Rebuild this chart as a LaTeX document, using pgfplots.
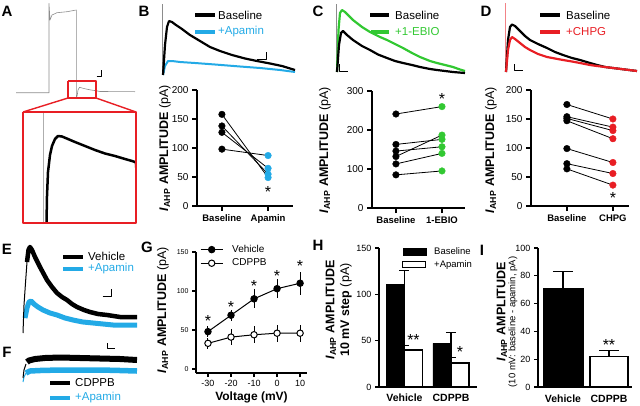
\documentclass[border=0pt]{standalone}
\usepackage{pgfplots}
\pgfplotsset{compat=1.18}
\usepackage{fontspec}
\setmainfont{Liberation Sans}
\definecolor{cblue}{RGB}{35,170,230}
\definecolor{cgreen}{RGB}{50,200,50}
\definecolor{cred}{RGB}{232,30,36}
\definecolor{tgray}{RGB}{140,140,140}
\newcommand{\fs}[1]{\fontsize{#1}{#1}\selectfont}
\newcommand{\IAHP}{\textbf{\textit{I}}\textsubscript{\textbf{AHP}}}
\pgfplotsset{
  gp/.style={scale only axis, axis x line*=bottom, axis y line*=left,
    axis line style={line width=1.8pt}, tick style={line width=1.5pt, black},
    tick align=outside, major tick length=5pt, clip=false,
    /pgf/number format/assume math mode=true},
  tr/.style={no marks, line join=round},
  pair/.style={black, line width=0.8pt, no marks},
  dot/.style={only marks, mark=*, mark size=3.3pt},
}
\begin{document}
\begin{tikzpicture}
\path[use as bounding box] (0pt,0pt) rectangle (640pt,-406pt);
%================ overlay in pixel coordinates (traces, legends of traces, labels)
\begin{axis}[at={(0pt,0pt)}, anchor=north west, scale only axis, width=640pt, height=406pt,
  xmin=0, xmax=640, ymin=0, ymax=406, y dir=reverse, hide axis, clip=false]
% panel letters
\node[font=\fs{15}\bfseries] at (axis cs:7,11) {A};
\node[font=\fs{15}\bfseries] at (axis cs:144,11) {B};
\node[font=\fs{15}\bfseries] at (axis cs:318,11) {C};
\node[font=\fs{15}\bfseries] at (axis cs:486,11) {D};
\node[font=\fs{15}\bfseries] at (axis cs:7,249) {E};
\node[font=\fs{15}\bfseries] at (axis cs:7,352) {F};
\node[font=\fs{15}\bfseries] at (axis cs:147,247) {G};
\node[font=\fs{15}\bfseries] at (axis cs:318,245) {H};
\node[font=\fs{15}\bfseries] at (axis cs:482,250) {I};
% ---- A
\addplot[tr, tgray, line width=0.6pt] coordinates {(16,92.7) (49,92.7) (49,3.5) (50,20) (52,15) (57,12.7) (67,11.7) (76.3,10) (76.3,98) (77.3,95) (78,90) (79.5,87.3) (82,88) (86,89) (91,90) (96,90.7) (100,91.5) (135,91.7)};
\addplot[tr, black, line width=0.8pt] coordinates {(96.7,76) (101,76) (101,70)};
\addplot[tr, cred, line width=1.4pt] coordinates {(68,81) (96,81) (96,98) (68,98) (68,81)};
\addplot[tr, cred, line width=1.4pt] coordinates {(68,98) (23,112)};
\addplot[tr, cred, line width=1.4pt] coordinates {(96,98) (136,112)};
\addplot[tr, tgray!70, line width=0.6pt] coordinates {(43,112) (43,223)};
\addplot[tr, black, line width=2.5pt] coordinates {(46.5,223) (47,196) (48,172) (50,155) (52,146) (55,139) (58,136) (62,136.5) (68,139) (75,142) (85,146) (95,150) (105,153.5) (115,156) (125,159) (132,161) (135,162)};
\addplot[tr, black, line width=0.8pt] coordinates {(135,162) (135.7,172)};
\addplot[tr, cred, line width=1.4pt] coordinates {(23,112) (136,112) (136,223) (23,223) (23,112)};
% ---- B traces
\addplot[tr, tgray, line width=0.6pt] coordinates {(162.5,4) (162.5,75)};
\addplot[tr, cblue, line width=2pt] coordinates {(163,75) (165,66) (168,61) (172,61) (180,62) (195,63) (215,64.5) (240,66.5) (260,68) (280,70) (295,72)};
\addplot[tr, black, line width=2.2pt] coordinates {(163,75) (165,45) (167,27) (169,21) (172,22) (176,25) (182,29) (190,35) (200,41) (210,47) (220,51) (232,55) (245,58.5) (257,61) (270,63.5) (282,66) (295,70)};
\addplot[tr, black, line width=0.8pt] coordinates {(256.7,59) (266,59) (266,52)};
\addplot[tr, black, line width=4pt] coordinates {(195,15) (215,15)};
\addplot[tr, cblue, line width=4pt] coordinates {(195,31.7) (215,31.7)};
\node[font=\fs{11.5}, anchor=west, inner sep=0pt] at (axis cs:218,15) {Baseline};
\node[font=\fs{11.5}, anchor=west, inner sep=0pt, text=cblue] at (axis cs:218,31.7) {+Apamin};
% ---- C traces
\addplot[tr, tgray, line width=0.6pt] coordinates {(336,4) (336,72)};
\addplot[tr, cgreen, line width=2.2pt] coordinates {(337,72) (338.5,30) (340,13) (342,10) (345,12) (353,20) (362,27) (370,32) (380,37) (387,40) (395,44) (403,48) (412,53) (420,57) (430,61) (437,63) (445,65) (453,67) (460,69.5) (465,71)};
\addplot[tr, black, line width=2.2pt] coordinates {(337,72) (339,45) (341,33) (343,31) (347,35) (353,40) (362,46) (370,50) (378,54.5) (387,58) (395,61) (403,63) (412,65) (420,67) (430,69) (437,70) (445,71) (453,72) (465,73)};
\addplot[tr, black, line width=0.8pt] coordinates {(339.3,64) (339.3,71) (348.3,71)};
\addplot[tr, black, line width=4pt] coordinates {(370,15) (389,15)};
\addplot[tr, cgreen, line width=4pt] coordinates {(371,31.7) (389,31.7)};
\node[font=\fs{11.5}, anchor=west, inner sep=0pt] at (axis cs:395,15) {Baseline};
\node[font=\fs{11.5}, anchor=west, inner sep=0pt, text=cgreen] at (axis cs:395,31.7) {+1-EBIO};
% ---- D traces
\addplot[tr, cred!55, line width=0.7pt] coordinates {(505,3) (505,72)};
\addplot[tr, black, line width=2.2pt] coordinates {(506,72) (508,40) (510,27) (512,24.5) (515,26) (520,31) (525,36) (530,40) (538,44) (547,48) (555,52) (563,55) (572,58) (580,60) (590,63) (597,65) (605,67) (613,68) (625,69.5) (637,71)};
\addplot[tr, cred, line width=2.2pt] coordinates {(506,72) (508,50) (510,40) (512,37) (515,39) (520,43) (525,47) (530,50) (538,54) (547,57) (555,58.5) (563,60) (572,61.5) (580,63) (590,65) (597,66) (605,67) (613,68) (625,69.5) (637,71)};
\addplot[tr, black, line width=0.8pt] coordinates {(514.3,64) (514.3,70) (523.3,70)};
\addplot[tr, black, line width=4pt] coordinates {(540,15) (560,15)};
\addplot[tr, cred, line width=4pt] coordinates {(540,31.7) (560,31.7)};
\node[font=\fs{11.5}, anchor=west, inner sep=0pt] at (axis cs:566,15) {Baseline};
\node[font=\fs{11.5}, anchor=west, inner sep=0pt, text=cred] at (axis cs:566,31.7) {+CHPG};
% ---- E traces
\addplot[tr, cblue, line width=5pt] coordinates {(25,318) (27,308) (29,302) (31,301) (34,304) (38,307) (43,310) (50,313) (57,315) (65,318) (73,320) (83,322) (93,323) (103,324) (113,325) (125,325) (137,325)};
\addplot[tr, black, line width=1pt] coordinates {(23,333) (24,305) (25.5,283) (27,262)};
\addplot[tr, black, line width=4.5pt] coordinates {(27,262) (28.5,250) (30,247) (32,250) (35,257) (40,267) (47,280) (52,287) (57,293) (62,297) (67,300) (72,304) (77,307) (84,310) (90,312) (98,314) (107,315) (120,317) (137,317)};
\addplot[tr, black, line width=0.8pt] coordinates {(102.7,296.7) (111.7,296.7) (111.7,289.3)};
\addplot[tr, black, line width=4pt] coordinates {(63,256.7) (83,256.7)};
\addplot[tr, cblue, line width=4pt] coordinates {(63,269) (83,269)};
\node[font=\fs{11.5}, anchor=west, inner sep=0pt] at (axis cs:88,256.7) {Vehicle};
\node[font=\fs{11.5}, anchor=west, inner sep=0pt, text=cblue] at (axis cs:88,269) {+Apamin};
% ---- F traces
\addplot[tr, cblue, line width=5.5pt] coordinates {(26,373) (30,371) (40,370.5) (60,370) (80,370) (100,370) (120,370.5) (137,371)};
\addplot[tr, cblue, line width=1pt] coordinates {(23,382) (24,377) (26,373)};
\addplot[tr, black, line width=1pt] coordinates {(23,378) (24,370) (26,364)};
\addplot[tr, black, line width=6pt] coordinates {(27,362) (29,360.5) (35,359) (45,358) (60,357.5) (80,358) (100,358.5) (120,359) (137,360)};
\addplot[tr, black, line width=0.8pt] coordinates {(107.3,343.3) (107.3,348.3) (115,348.3)};
\addplot[tr, black, line width=4pt] coordinates {(50,383) (70,383)};
\addplot[tr, cblue, line width=4pt] coordinates {(50,398) (70,398)};
\node[font=\fs{11.5}, anchor=west, inner sep=0pt] at (axis cs:75,383) {CDPPB};
\node[font=\fs{11.5}, anchor=west, inner sep=0pt, text=cblue] at (axis cs:75,398) {+Apamin};
% ---- y labels
\node[rotate=90, font=\fs{12.5}] at (axis cs:165,148) {\IAHP\ \textbf{AMPLITUDE} (pA)};
\node[rotate=90, font=\fs{12.5}] at (axis cs:325,150) {\IAHP\ \textbf{AMPLITUDE} (pA)};
\node[rotate=90, font=\fs{12.5}] at (axis cs:491,150) {\IAHP\ \textbf{AMPLITUDE} (pA)};
\node[rotate=90, font=\fs{12.5}] at (axis cs:163,310) {\IAHP\ \textbf{AMPLITUDE} (pA)};
\node[rotate=90, font=\fs{12.5}] at (axis cs:331,310) {\IAHP\ \textbf{AMPLITUDE}};
\node[rotate=90, font=\fs{12.5}] at (axis cs:346,310) {\textbf{10 mV step} (pA)};
\node[rotate=90, font=\fs{12.5}] at (axis cs:502,312) {\IAHP\ \textbf{AMPLITUDE}};
\node[rotate=90, font=\fs{9.5}] at (axis cs:513,322) {(10 mV: baseline - apamin, pA)};
\end{axis}
%================ B lower
\begin{axis}[gp, at={(197pt,-206pt)}, anchor=south west, width=96pt, height=116pt,
  xmin=-0.54, xmax=1.54, ymin=0, ymax=200, ytick={0,50,100,150,200}, xtick={0,1},
  xticklabels={Baseline,Apamin}, x tick label style={font=\fs{9.5}\bfseries},
  y tick label style={font=\fs{10}}]
\addplot[pair] coordinates {(0,158) (1,49)};
\addplot[pair] coordinates {(0,138) (1,55)};
\addplot[pair] coordinates {(0,127) (1,65)};
\addplot[pair] coordinates {(0,98) (1,87)};
\addplot[dot, black] coordinates {(0,158) (0,138) (0,127) (0,98)};
\addplot[dot, cblue, mark options={fill=cblue, draw=cblue}] coordinates {(1,49) (1,55) (1,65) (1,87)};
\node[font=\fs{16}] at (axis cs:1,25) {*};
\end{axis}
%================ C lower
\begin{axis}[gp, at={(372pt,-208pt)}, anchor=south west, width=93pt, height=117pt,
  xmin=-0.52, xmax=1.5, ymin=0, ymax=300, ytick={0,100,200,300}, xtick={0,1},
  xticklabels={Baseline,1-EBIO}, x tick label style={font=\fs{9.5}\bfseries},
  y tick label style={font=\fs{10}}]
\addplot[pair] coordinates {(0,241) (1,260)};
\addplot[pair] coordinates {(0,163) (1,176)};
\addplot[pair] coordinates {(0,146) (1,157)};
\addplot[pair] coordinates {(0,132) (1,187)};
\addplot[pair] coordinates {(0,113) (1,140)};
\addplot[pair] coordinates {(0,85) (1,95)};
\addplot[dot, black] coordinates {(0,241) (0,163) (0,146) (0,132) (0,113) (0,85)};
\addplot[dot, cgreen, mark options={fill=cgreen, draw=cgreen}] coordinates {(1,260) (1,187) (1,176) (1,157) (1,140) (1,95)};
\node[font=\fs{16}] at (axis cs:1,280) {*};
\end{axis}
%================ D lower
\begin{axis}[gp, at={(531pt,-206pt)}, anchor=south west, width=98pt, height=116pt,
  xmin=-0.78, xmax=1.35, ymin=0, ymax=200, ytick={0,50,100,150,200}, xtick={0,1},
  xticklabels={Baseline,CHPG}, x tick label style={font=\fs{9.5}\bfseries},
  y tick label style={font=\fs{10}}]
\addplot[pair] coordinates {(0,175) (1,150)};
\addplot[pair] coordinates {(0,154) (1,136)};
\addplot[pair] coordinates {(0,151) (1,130)};
\addplot[pair] coordinates {(0,147) (1,116)};
\addplot[pair] coordinates {(0,99) (1,75)};
\addplot[pair] coordinates {(0,73) (1,56)};
\addplot[pair] coordinates {(0,64) (1,36)};
\addplot[dot, black] coordinates {(0,175) (0,154) (0,151) (0,147) (0,99) (0,73) (0,64)};
\addplot[dot, cred, mark options={fill=cred, draw=cred}] coordinates {(1,150) (1,136) (1,130) (1,116) (1,75) (1,56) (1,36)};
\node[font=\fs{16}] at (axis cs:1,13) {*};
\end{axis}
%================ G
\begin{axis}[gp, axis line style={line width=1.4pt}, tick style={line width=1.2pt}, major tick length=4pt,
  at={(196pt,-373pt)}, anchor=south west, width=111pt, height=121pt,
  xmin=-35.2, xmax=13, ymin=-5, ymax=150, ytick={0,50,100,150}, xtick={-30,-20,-10,0,10},
  xticklabels={-30,-20,-10,0,10},
  y tick label style={font=\fs{7}}, x tick label style={font=\fs{9}},
  xlabel={\textbf{Voltage (mV)}}, xlabel style={font=\fs{12}, yshift=2pt},
  legend style={draw=none, fill=none, at={(0.036,1.074)}, anchor=north west, font=\fs{10},
    inner sep=0pt, row sep=1pt, /tikz/every odd column/.append style={column sep=7pt}},
  legend cell align=left,
  legend image code/.code={\draw[mark repeat=2,mark phase=2,#1] plot coordinates {(0pt,0pt) (11pt,0pt) (22pt,0pt)};}]
\addplot[black, line width=1pt, mark=*, mark size=3.2pt,
  error bars/.cd, y dir=both, y explicit, error mark=none, error bar style={line width=1pt}]
  coordinates {(-30,48) +- (0,7) (-20,69) +- (0,7) (-10,90) +- (0,12) (0,103) +- (0,12) (10,110) +- (0,15)};
\addlegendentry{Vehicle}
\addplot[black, line width=1pt, mark=*, mark size=3.2pt, mark options={fill=white},
  error bars/.cd, y dir=both, y explicit, error mark=none, error bar style={line width=1pt}]
  coordinates {(-30,33) +- (0,7) (-20,41) +- (0,10) (-10,44) +- (0,11) (0,46) +- (0,11) (10,46) +- (0,11)};
\addlegendentry{CDPPB}
\node[font=\fs{16}] at (axis cs:-30,61) {*};
\node[font=\fs{16}] at (axis cs:-20,80) {*};
\node[font=\fs{16}] at (axis cs:-10,106) {*};
\node[font=\fs{16}] at (axis cs:0,119) {*};
\node[font=\fs{16}] at (axis cs:10,131.5) {*};
\end{axis}
%================ H
\begin{axis}[gp, axis line style={line width=1.5pt}, tick style={line width=1.2pt}, major tick length=4pt,
  at={(379pt,-387pt)}, anchor=south west, width=98pt, height=139pt,
  xmin=-0.548, xmax=1.56, ymin=0, ymax=150, ytick={0,50,100,150}, xtick=\empty,
  y tick label style={font=\fs{9}},
  legend style={draw=none, fill=none, at={(0.235,1.02)}, anchor=north west, font=\fs{9.5},
    inner sep=0pt, row sep=1pt, /tikz/every odd column/.append style={column sep=6pt}},
  legend cell align=left]
\addlegendimage{legend image code/.code={\draw[draw=black, fill=black] (0pt,-3.5pt) rectangle (23pt,3.5pt);}}
\addlegendentry{Baseline}
\addlegendimage{legend image code/.code={\draw[draw=black, fill=white, line width=1pt] (0pt,-3pt) rectangle (23pt,3pt);}}
\addlegendentry{+Apamin}
\addplot[ybar, bar width=18pt, bar shift=-9pt, fill=black, draw=black, forget plot,
  error bars/.cd, y dir=plus, y explicit, error bar style={line width=1.2pt, black},
  error mark options={rotate=90, mark size=5pt, line width=1.2pt, black}]
  coordinates {(0,111) +- (0,15) (1,47) +- (0,12)};
\addplot[ybar, bar width=18pt, bar shift=9pt, fill=white, draw=black, line width=1.2pt, forget plot,
  error bars/.cd, y dir=plus, y explicit, error bar style={line width=1.2pt, black},
  error mark options={rotate=90, mark size=5pt, line width=1.2pt, black}]
  coordinates {(0,40) +- (0,5) (1,26) +- (0,6)};
\node[font=\fs{16}, xshift=9pt] at (axis cs:0,50.5) {**};
\node[font=\fs{16}, xshift=9pt] at (axis cs:1,37.5) {*};
\node[font=\fs{10.5}\bfseries, anchor=north] at (axis cs:0,-4) {Vehicle};
\node[font=\fs{10.5}\bfseries, anchor=north] at (axis cs:1,-4) {CDPPB};
\end{axis}
%================ I
\begin{axis}[gp, axis line style={line width=1.5pt}, tick style={line width=1.2pt}, major tick length=4pt,
  at={(538pt,-387pt)}, anchor=south west, width=94pt, height=139pt,
  xmin=-0.543, xmax=1.5, ymin=0, ymax=100, ytick={0,20,40,60,80,100}, xtick=\empty,
  y tick label style={font=\fs{9}}]
\addplot[ybar, bar width=40pt, bar shift=0pt, fill=black, draw=black,
  error bars/.cd, y dir=plus, y explicit, error bar style={line width=1.2pt, black},
  error mark options={rotate=90, mark size=10pt, line width=1.2pt, black}]
  coordinates {(0,71) +- (0,12)};
\addplot[ybar, bar width=38pt, bar shift=0pt, fill=white, draw=black, line width=1.2pt,
  error bars/.cd, y dir=plus, y explicit, error bar style={line width=1.2pt, black},
  error mark options={rotate=90, mark size=10pt, line width=1.2pt, black}]
  coordinates {(1,22) +- (0,4.5)};
\node[font=\fs{16}] at (axis cs:1,30) {**};
\node[font=\fs{10.5}\bfseries, anchor=north] at (axis cs:0,-3) {Vehicle};
\node[font=\fs{10.5}\bfseries, anchor=north] at (axis cs:1,-3) {CDPPB};
\end{axis}
\end{tikzpicture}
\end{document}
